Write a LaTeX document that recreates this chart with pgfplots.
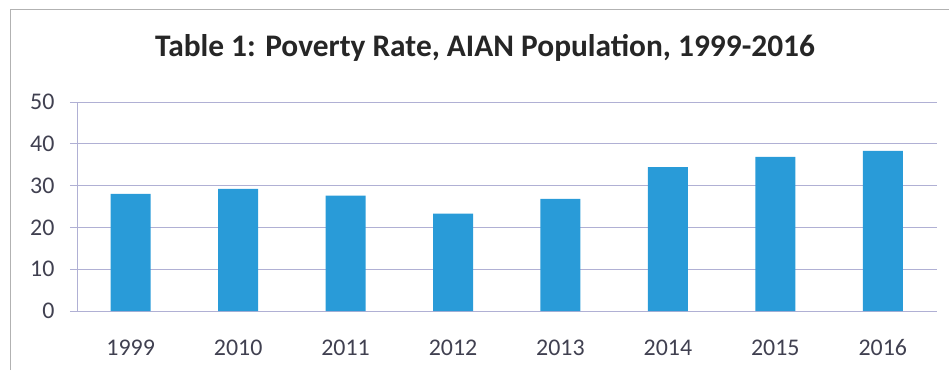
\documentclass[border=0pt]{standalone}
\usepackage{pgfplots}
\pgfplotsset{compat=1.18}
\usepackage{fontspec}
\setmainfont{Carlito}
\definecolor{barblue}{RGB}{41,155,216}
\definecolor{gridc}{RGB}{176,176,212}
\definecolor{txt}{RGB}{64,64,80}
\begin{document}
\begin{tikzpicture}[x=1bp,y=1bp]
\path[use as bounding box] (0,0) rectangle (949,370);
\draw[color=black!30, line width=1bp] (10,0) -- (10,360) -- (949,360);
\node[font=\fontsize{31.5}{33}\selectfont\bfseries, text=black!85] at (485,322) {Table 1: Poverty Rate, AIAN Population, 1999-2016};
\begin{axis}[
  at={(77bp,59bp)}, anchor=south west,
  scale only axis, width=859.5bp, height=209bp,
  ybar, bar width=40bp,
  xmin=-0.5, xmax=7.5, ymin=0, ymax=50,
  ytick={0,10,...,50},
  xtick={0,...,7},
  xticklabels={1999,2010,2011,2012,2013,2014,2015,2016},
  extra x ticks={-0.5,0.5,...,7.5},
  extra x tick labels={},
  extra x tick style={major tick length=6bp, tick style={draw=gridc}, grid=none},
  major x tick style={draw=none},
  major tick length=7bp,
  tick align=outside,
  ymajorgrids, grid style={gridc, line width=1bp},
  axis x line*=bottom, axis y line*=left,
  axis line style={gridc, line width=1bp},
  y tick style={gridc, line width=1bp},
  tick label style={font=\fontsize{24}{26}\selectfont, text=txt},
  xticklabel style={yshift=-18bp},
  yticklabel style={xshift=-12bp},
  /pgf/number format/assume math mode=true,
]
\addplot[fill=barblue, draw=none] coordinates {
(0,28.0) (1,29.2) (2,27.6) (3,23.3) (4,26.8) (5,34.4) (6,36.9) (7,38.3)};
\end{axis}
\end{tikzpicture}
\end{document}
